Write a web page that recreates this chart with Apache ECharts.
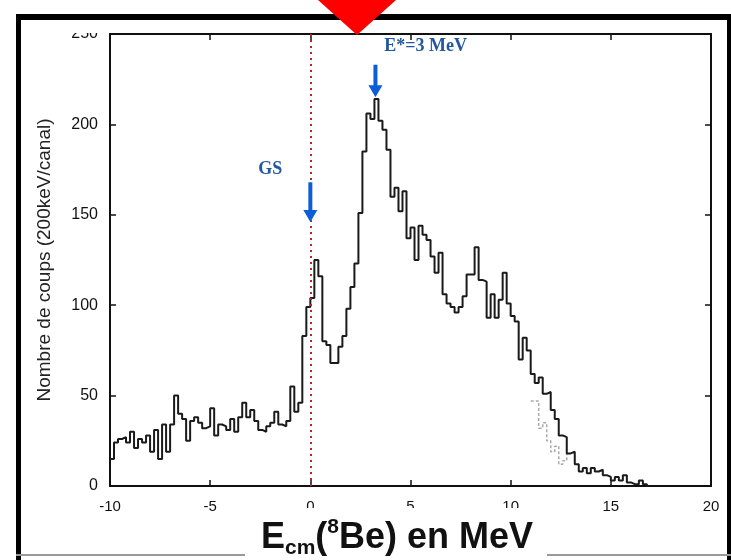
<!DOCTYPE html>
<html><head><meta charset="utf-8">
<script src="https://cdn.jsdelivr.net/npm/echarts@6/dist/echarts.min.js"></script>
<style>html,body{margin:0;padding:0;background:#fff}#c{width:731px;height:560px}</style>
</head><body><div id="c"></div>
<script>
// Histogram: counts per 200 keV channel, starting at -10 MeV
const binStart = -10;
const binWidth = 0.2;
const counts = [15,24,26,27,24,30,21,26,24,28,19,31,15,34,19,34,
  50,40,37,25,36,38,35,32,33,43,28,34,33,31,
  37,30,38,46,38,42,36,31,30,33,35,41,34,33,36,
  55,41,46,83,99,104,125,116,80,78,68,68,77,83,98,110,123,
  151,185,206,203,214,202,197,186,160,165,152,163,137,143,125,144,139,136,
  127,118,129,106,101,99,96,99,105,117,117,132,114,113,93,106,93,103,
  118,101,94,91,70,82,75,62,57,60,51,52,42,37,28,27,18,19,
  12,8,10,7,10,8,9,6,5,3,5,3,6,2,1,1,3,1];
// faint grey second histogram (visible only around 11-13 MeV)
const greyStartBin = 105;
const greyCounts = [47,47,32,35,25,19,22,12,14,18];

const xTicks = [-10, -5, 0, 5, 10, 15, 20];
const yTicks = [0, 50, 100, 150, 200, 250];

const gsLabel = {x: -2.0, y: 175, text: 'GS'};
const gsArrow = {x: 0, yTop: 168, yTip: 146};
const exLabel = {x: 5.75, y: 243, text: 'E*=3 MeV'};
const exArrow = {x: 3.25, yTop: 233, yTip: 215};

const mainData = counts.map((c, i) => [binStart + i * binWidth, c]);
mainData.push([binStart + counts.length * binWidth, 0]);
const greyData = greyCounts.map((c, i) => [binStart + (greyStartBin + i) * binWidth, c]);

const chart = echarts.init(document.getElementById('c'), null, {renderer: 'canvas'});
const font = 'Liberation Sans, Arial, sans-serif';
const axisLine = {show: true, onZero: false, lineStyle: {color: '#111', width: 2}};
const axisTick = {show: true, inside: true, length: 6, lineStyle: {color: '#111', width: 1.5}};
const xCommon = {
  type: 'value', min: xTicks[0], max: xTicks[xTicks.length - 1], interval: 5,
  axisLine: axisLine, axisTick: axisTick, splitLine: {show: false}
};
const yCommon = {
  type: 'value', min: yTicks[0], max: yTicks[yTicks.length - 1], interval: 50,
  axisLine: axisLine, axisTick: axisTick, splitLine: {show: false}
};
chart.setOption({
  animation: false,
  backgroundColor: '#fff',
  grid: {left: 110, right: 20, top: 34, bottom: 74},
  xAxis: [
    Object.assign({}, xCommon, {position: 'bottom',
      axisLabel: {fontSize: 15, color: '#111', fontFamily: font, margin: 13}}),
    Object.assign({}, xCommon, {position: 'top', axisLabel: {show: false}})
  ],
  yAxis: [
    Object.assign({}, yCommon, {position: 'left',
     axisLabel: {fontSize: 16, color: '#111', fontFamily: font, margin: 12},
     name: 'Nombre de coups (200keV/canal)', nameLocation: 'middle', nameGap: 56,
     nameTextStyle: {fontSize: 19, color: '#222', fontFamily: font}}),
    Object.assign({}, yCommon, {position: 'right', axisLabel: {show: false}})
  ],
  series: [
    {type: 'line', step: 'end', data: greyData, showSymbol: false, z: 2,
     lineStyle: {color: '#aaa', width: 1.5, type: [3, 2]}},
    {type: 'line', step: 'end', data: mainData, showSymbol: false, z: 3,
     lineStyle: {color: '#1a1a1a', width: 2},
     markLine: {silent: true, symbol: ['none', 'none'], label: {show: false},
       lineStyle: {color: '#b3262e', width: 2, type: [2, 4]},
       data: [{xAxis: 0}]}}
  ]
});

function px(x, y) { return chart.convertToPixel({xAxisIndex: 0, yAxisIndex: 0}, [x, y]); }
function arrow(a) {
  const p1 = px(a.x, a.yTop), p2 = px(a.x, a.yTip);
  const hl = 12, hw = 7, col = '#0b5ed7';
  return [
    {type: 'line', z: 50, shape: {x1: p1[0], y1: p1[1], x2: p2[0], y2: p2[1] - hl + 1}, style: {stroke: col, lineWidth: 4}},
    {type: 'polygon', z: 50, shape: {points: [[p2[0] - hw, p2[1] - hl], [p2[0] + hw, p2[1] - hl], [p2[0], p2[1]]]}, style: {fill: col}}
  ];
}
function label(l) {
  const p = px(l.x, l.y);
  return {type: 'text', z: 50, x: p[0], y: p[1], style: {text: l.text, fill: '#22589f',
    font: 'bold 18px "Liberation Serif", "Times New Roman", serif', textAlign: 'center', textVerticalAlign: 'middle'}};
}

const g = [];
// white strip hiding top half of the "250" label (cropped original)
g.push({type: 'rect', z: 40, shape: {x: 55, y: 20, width: 50, height: 13}, style: {fill: '#fff'}});
// outer frame
g.push({type: 'rect', z: 60, shape: {x: 16, y: 14, width: 5, height: 546}, style: {fill: '#000'}});
g.push({type: 'rect', z: 60, shape: {x: 16, y: 14, width: 715, height: 6}, style: {fill: '#000'}});
g.push({type: 'rect', z: 60, shape: {x: 727, y: 14, width: 4, height: 546}, style: {fill: '#000'}});
g.push({type: 'rect', z: 60, shape: {x: 16, y: 554, width: 715, height: 2}, style: {fill: '#999'}});
// red marker at top
g.push({type: 'polygon', z: 70, shape: {points: [[318, 0], [396, 0], [357, 35]]}, style: {fill: '#ff0000'}});
// title box
g.push({type: 'rect', z: 80, shape: {x: 245, y: 508, width: 302, height: 52}, style: {fill: '#fff'}});
g.push({type: 'text', z: 81, x: 397, y: 538, style: {
  text: '{m|E}{s|cm}{m|(}{p|8}{m|Be) en MeV}', textAlign: 'center', textVerticalAlign: 'middle',
  rich: {
    m: {fontSize: 36, fontWeight: 'bold', fontFamily: '"Liberation Sans", Arial, sans-serif', fill: '#111', lineHeight: 42},
    s: {fontSize: 21, fontWeight: 'bold', fontFamily: '"Liberation Sans", Arial, sans-serif', fill: '#111', lineHeight: 21, verticalAlign: 'bottom'},
    p: {fontSize: 21, fontWeight: 'bold', fontFamily: '"Liberation Sans", Arial, sans-serif', fill: '#111', lineHeight: 21, verticalAlign: 'top'}
  }}});
g.push(...arrow(gsArrow), ...arrow(exArrow), label(gsLabel), label(exLabel));
chart.setOption({graphic: g});
</script></body></html>
